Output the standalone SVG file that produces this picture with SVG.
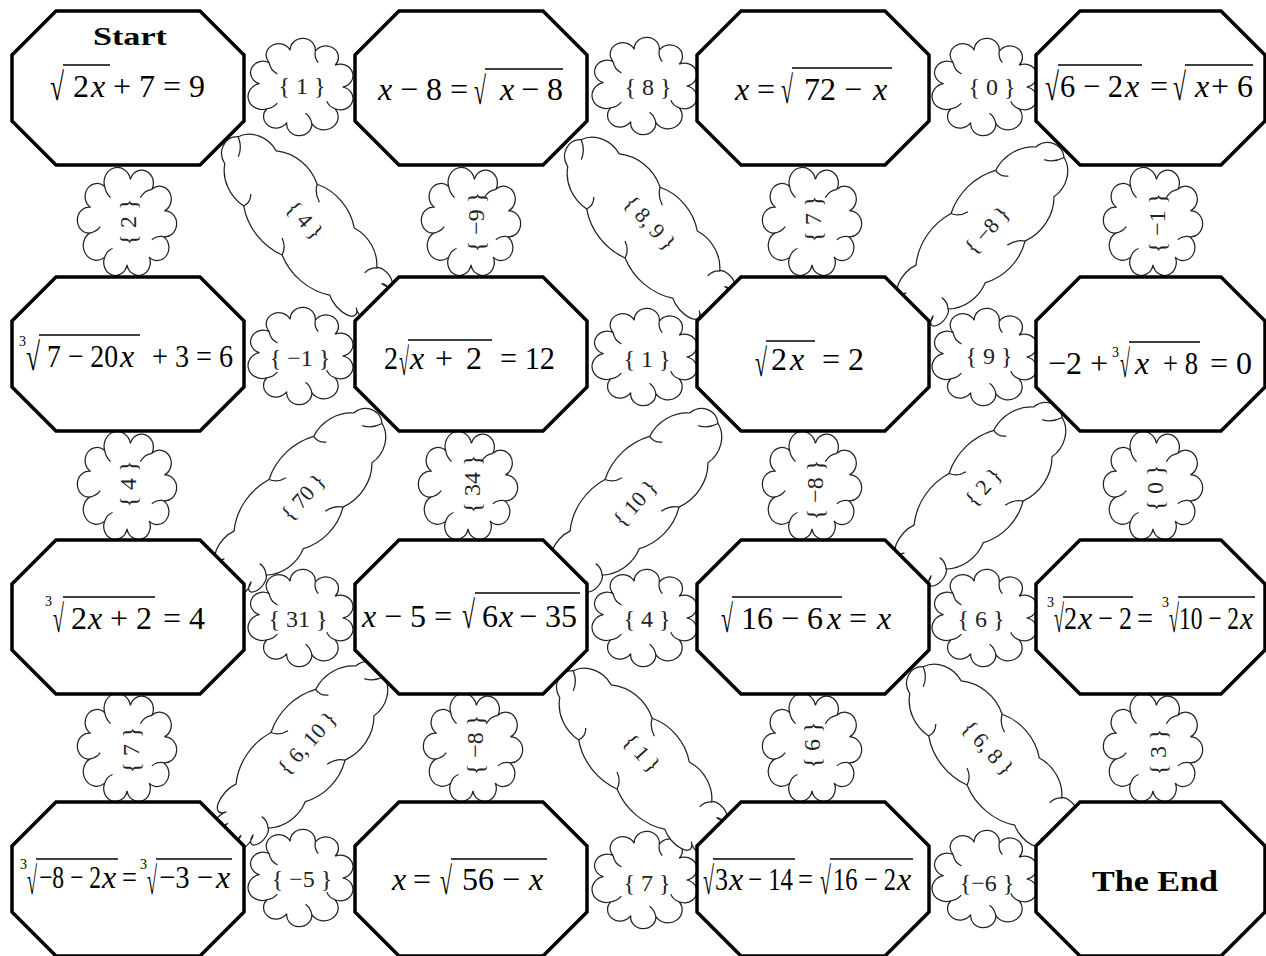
<svg xmlns="http://www.w3.org/2000/svg" width="1266" height="956" viewBox="0 0 1266 956">
<style>
.oct{fill:#fff;stroke:#000;stroke-width:3.5;stroke-linejoin:miter}
.cl{fill:#fff;stroke:#222;stroke-width:1.25}
.t{font-family:"Liberation Serif","Times New Roman",serif;font-size:32px;fill:#000}
.it{font-style:italic}
.r{font-family:"Liberation Serif","Times New Roman",serif;font-size:39px;fill:#000}
.i{font-family:"Liberation Serif","Times New Roman",serif;font-size:14px;fill:#000}
.vin{stroke:#000;stroke-width:1.7}
.lb{font-family:"Liberation Serif","Times New Roman",serif;font-size:24px;fill:#222;text-anchor:middle;dominant-baseline:central}
.dl{font-size:22px}
.ttl{font-family:"Liberation Serif","Times New Roman",serif;font-weight:bold;fill:#000}
</style>
<defs>
<g id="cloud">
<path vector-effect="non-scaling-stroke" d="M40,0 A12.1,12.1 0 1 1 32.8,22.9 A13.7,13.7 0 1 1 10.4,38.6 A12.1,12.1 0 1 1 -13.7,37.6 A12.1,12.1 0 1 1 -32.8,22.9 A13.7,13.7 0 1 1 -39.9,-3.5 A12.1,12.1 0 1 1 -30.6,-25.7 A12.1,12.1 0 1 1 -10.4,-38.6 A12.1,12.1 0 1 1 13.7,-37.6 A12.1,12.1 0 1 1 32.8,-22.9 A12.1,12.1 0 1 1 40,0 Z"/>
<path vector-effect="non-scaling-stroke" fill="none" d="M-30.6,-25.7 q1,8 8,12 M10.4,38.6 q-1,-7 -6,-11 M13.7,-37.6 q-1,7 3,12 M-32.8,22.9 q6,-1 10,-6 M32.8,22.9 q-6,-2 -8,-8"/>
</g>
<g id="longcloud">
<path vector-effect="non-scaling-stroke" d="M-90.9,19.5 A18.2,18.2 0 0 1 -101.4,-10.1 A28,28 0 0 1 -67.5,-29.9 A43,43 0 0 1 -18.2,-38.4 A50,50 0 0 1 35.9,-36.6 A37,37 0 0 1 78,-26.1 A11,6 0 1 1 92,-19 A12,6 0 1 1 100,-10 A13,6 0 1 1 104,0 A13,6 0 1 1 101,9 A12,6 0 1 1 93,18 A16,8 0 0 1 67.5,29.9 A58,58 0 0 1 9.2,38.9 A58,58 0 0 1 -49.3,34.4 A38,38 0 0 1 -90.9,19.5 Z"/>
<path vector-effect="non-scaling-stroke" fill="none" d="M-101.4,-10.1 q10,4 14,14 M-18.2,-38.4 q4,8 14,11 M9.2,38.9 q-3,-9 -12,-12 M78,-26.1 q-5,6 -4,13 M-49.3,34.4 q2,-8 -4,-14"/>
</g>
</defs>

<g id="connectors">
<g id="c-r1-12"><use href="#cloud" class="cl" transform="translate(301,87) scale(1.04,0.95)"/><text class="lb" x="302" y="86">{ 1 }</text></g>
<g id="c-r1-23"><use href="#cloud" class="cl" transform="translate(645,86) scale(1.04,0.95)"/><text class="lb" x="648" y="87">{ 8 }</text></g>
<g id="c-r1-34"><use href="#cloud" class="cl" transform="translate(985,87) scale(1.04,0.95)"/><text class="lb" x="992" y="87">{ 0 }</text></g>
<g id="c-r2-12"><use href="#cloud" class="cl" transform="translate(301,356) scale(1.04,0.95)"/><text class="lb" x="300" y="358">{ −1 }</text></g>
<g id="c-r2-23"><use href="#cloud" class="cl" transform="translate(645,357) scale(1.04,0.95)"/><text class="lb" x="647" y="359">{ 1 }</text></g>
<g id="c-r2-34"><use href="#cloud" class="cl" transform="translate(985,357) scale(1.04,0.95)"/><text class="lb" x="989" y="356">{ 9 }</text></g>
<g id="c-r3-12"><use href="#cloud" class="cl" transform="translate(301,618) scale(1.04,0.95)"/><text class="lb" x="298" y="619">{ 31 }</text></g>
<g id="c-r3-23"><use href="#cloud" class="cl" transform="translate(645,618) scale(1.04,0.95)"/><text class="lb" x="647" y="619">{ 4 }</text></g>
<g id="c-r3-34"><use href="#cloud" class="cl" transform="translate(985,618) scale(1.04,0.95)"/><text class="lb" x="981" y="619">{ 6 }</text></g>
<g id="c-r4-12"><use href="#cloud" class="cl" transform="translate(301,878) scale(1.04,0.95)"/><text class="lb" x="302" y="879">{ −5 }</text></g>
<g id="c-r4-23"><use href="#cloud" class="cl" transform="translate(645,880) scale(1.04,0.95)"/><text class="lb" x="647" y="883">{ 7 }</text></g>
<g id="c-r4-34"><use href="#cloud" class="cl" transform="translate(985,879) scale(1.04,0.95)"/><text class="lb" x="987" y="883">{−6 }</text></g>
<g id="c-c1-12"><use href="#cloud" class="cl" transform="translate(127,222) rotate(90) scale(1.07,0.97)"/><text class="lb" transform="translate(128,222) rotate(-90)">{ 2 }</text></g>
<g id="c-c2-12"><use href="#cloud" class="cl" transform="translate(471,222) rotate(90) scale(1.07,0.97)"/><text class="lb" transform="translate(476,222) rotate(-90)">{ −9 }</text></g>
<g id="c-c3-12"><use href="#cloud" class="cl" transform="translate(812,222) rotate(90) scale(1.07,0.97)"/><text class="lb" transform="translate(813,219) rotate(-90)">{ 7 }</text></g>
<g id="c-c4-12"><use href="#cloud" class="cl" transform="translate(1153,222) rotate(90) scale(1.07,0.97)"/><text class="lb" transform="translate(1157,223) rotate(-90)">{ −1 }</text></g>
<g id="c-c1-23"><use href="#cloud" class="cl" transform="translate(127,486) rotate(90) scale(1.07,0.97)"/><text class="lb" transform="translate(128,484) rotate(-90)">{ 4 }</text></g>
<g id="c-c2-23"><use href="#cloud" class="cl" transform="translate(468,486) rotate(90) scale(1.07,0.97)"/><text class="lb" transform="translate(472,484) rotate(-90)">{ 34 }</text></g>
<g id="c-c3-23"><use href="#cloud" class="cl" transform="translate(812,486) rotate(90) scale(1.07,0.97)"/><text class="lb" transform="translate(815,490) rotate(-90)">{ −8 }</text></g>
<g id="c-c4-23"><use href="#cloud" class="cl" transform="translate(1153,486) rotate(90) scale(1.07,0.97)"/><text class="lb" transform="translate(1155,488) rotate(-90)">{ 0 }</text></g>
<g id="c-c1-34"><use href="#cloud" class="cl" transform="translate(127,748) rotate(90) scale(1.07,0.97)"/><text class="lb" transform="translate(131,750) rotate(-90)">{ 7 }</text></g>
<g id="c-c2-34"><use href="#cloud" class="cl" transform="translate(473,748) rotate(90) scale(1.07,0.97)"/><text class="lb" transform="translate(475,745) rotate(-90)">{ −8 }</text></g>
<g id="c-c3-34"><use href="#cloud" class="cl" transform="translate(812,748) rotate(90) scale(1.07,0.97)"/><text class="lb" transform="translate(812,745) rotate(-90)">{ 6 }</text></g>
<g id="c-c4-34"><use href="#cloud" class="cl" transform="translate(1153,748) rotate(90) scale(1.07,0.97)"/><text class="lb" transform="translate(1158,752) rotate(-90)">{ 3 }</text></g>
<g id="c-d-11-22"><use href="#longcloud" class="cl" transform="translate(303,223) rotate(48) scale(1.06,0.95)"/><text class="lb dl" transform="translate(305,220) rotate(48)">{ 4 }</text></g>
<g id="c-d-12-23"><use href="#longcloud" class="cl" transform="translate(646,226) rotate(48) scale(1.06,0.95)"/><text class="lb dl" transform="translate(650,223) rotate(48)">{ 8, 9 }</text></g>
<g id="c-d-14-23"><use href="#longcloud" class="cl" transform="translate(985,231) rotate(132) scale(1.06,0.95)"/><text class="lb dl" transform="translate(987,230) rotate(-48)">{ −8 }</text></g>
<g id="c-d-22-31"><use href="#longcloud" class="cl" transform="translate(303,497) rotate(132) scale(1.06,0.95)"/><text class="lb dl" transform="translate(303,497) rotate(-48)">{ 70 }</text></g>
<g id="c-d-23-32"><use href="#longcloud" class="cl" transform="translate(639,497) rotate(132) scale(1.06,0.95)"/><text class="lb dl" transform="translate(635,503) rotate(-48)">{ 10 }</text></g>
<g id="c-d-24-33"><use href="#longcloud" class="cl" transform="translate(983,491) rotate(132) scale(1.06,0.95)"/><text class="lb dl" transform="translate(983,487) rotate(-48)">{ 2 }</text></g>
<g id="c-d-32-41"><use href="#longcloud" class="cl" transform="translate(305,750) rotate(132) scale(1.06,0.95)"/><text class="lb dl" transform="translate(307,743) rotate(-48)">{ 6, 10 }</text></g>
<g id="c-d-32-43"><use href="#longcloud" class="cl" transform="translate(638,757) rotate(48) scale(1.06,0.95)"/><text class="lb dl" transform="translate(642,753) rotate(48)">{ 1 }</text></g>
<g id="c-d-33-44"><use href="#longcloud" class="cl" transform="translate(988,753) rotate(48) scale(1.06,0.95)"/><text class="lb dl" transform="translate(988,748) rotate(48)">{ 6, 8 }</text></g>
</g>

<g id="n-r1c1">
<polygon class="oct" points="56,11 200,11 244,55 244,121 200,165 56,165 12,121 12,55"/>
<text class="ttl" x="93" y="45" font-size="26" textLength="74" lengthAdjust="spacingAndGlyphs">Start</text>
<line class="vin" x1="63" y1="65" x2="110" y2="65"/>
<text class="r" transform="translate(50,100) scale(0.654,1)" textLength="21.4" lengthAdjust="spacingAndGlyphs">√</text>
<text class="t" x="73" y="97">2</text>
<text class="t it" x="91" y="97">x</text>
<text class="t" x="113" y="97">+ 7 = 9</text>
</g>
<g id="n-r1c2">
<polygon class="oct" points="399,11 543,11 587,55 587,121 543,165 399,165 355,121 355,55"/>
<line class="vin" x1="485" y1="69" x2="563" y2="69"/>
<text class="t it" x="378" y="100">x</text>
<text class="t" x="400" y="100">− 8 =</text>
<text class="r" transform="translate(474,104) scale(0.561,1)" textLength="21.4" lengthAdjust="spacingAndGlyphs">√</text>
<text class="t it" x="500" y="100">x</text>
<text class="t" x="521" y="100">− 8</text>
</g>
<g id="n-r1c3">
<polygon class="oct" points="741,11 885,11 929,55 929,121 885,165 741,165 697,121 697,55"/>
<line class="vin" x1="792" y1="68" x2="892" y2="68"/>
<text class="t it" x="735" y="100">x</text>
<text class="t" x="757" y="100">=</text>
<text class="r" transform="translate(781,103) scale(0.561,1)" textLength="21.4" lengthAdjust="spacingAndGlyphs">√</text>
<text class="t" x="804" y="100">72 −</text>
<text class="t it" x="873" y="100">x</text>
</g>
<g id="n-r1c4">
<polygon class="oct" points="1080,11 1221,11 1265,55 1265,121 1221,165 1080,165 1036,121 1036,55"/>
<line class="vin" x1="1058" y1="65" x2="1142" y2="65"/>
<line class="vin" x1="1185" y1="65" x2="1253" y2="65"/>
<text class="r" transform="translate(1045,100) scale(0.654,1)" textLength="21.4" lengthAdjust="spacingAndGlyphs">√</text>
<text class="t" transform="translate(1060,97) scale(0.955,1)" textLength="66" lengthAdjust="spacingAndGlyphs">6 − 2</text>
<text class="t it" x="1125" y="97">x</text>
<text class="t" x="1150" y="97">=</text>
<text class="r" transform="translate(1173,100) scale(0.607,1)" textLength="21.4" lengthAdjust="spacingAndGlyphs">√</text>
<text class="t it" x="1195" y="97">x</text>
<text class="t" x="1211" y="97">+ 6</text>
</g>

<g id="n-r2c1">
<polygon class="oct" points="56,277 200,277 244,321 244,387 200,431 56,431 12,387 12,321"/>
<line class="vin" x1="39" y1="335" x2="140" y2="335"/>
<text class="i" x="19" y="346">3</text>
<text class="r" transform="translate(26,370) scale(0.654,1)" textLength="21.4" lengthAdjust="spacingAndGlyphs">√</text>
<text class="t" transform="translate(47,367) scale(0.866,1)" textLength="82" lengthAdjust="spacingAndGlyphs">7 − 20</text>
<text class="t it" x="120" y="367">x</text>
<text class="t" transform="translate(152,367) scale(0.88,1)" textLength="92" lengthAdjust="spacingAndGlyphs">+ 3 = 6</text>
</g>
<g id="n-r2c2">
<polygon class="oct" points="399,277 543,277 587,321 587,387 543,431 399,431 355,387 355,321"/>
<line class="vin" x1="408" y1="340" x2="492" y2="340"/>
<text class="t" transform="translate(384,369) scale(0.875,1)" textLength="16" lengthAdjust="spacingAndGlyphs">2</text>
<text class="r" transform="translate(399,375) scale(0.467,1)" textLength="21.4" lengthAdjust="spacingAndGlyphs">√</text>
<text class="t it" x="410" y="369">x</text>
<text class="t" x="435" y="369">+</text>
<text class="t" x="466" y="369">2</text>
<text class="t" transform="translate(500,369) scale(0.948,1)" textLength="58" lengthAdjust="spacingAndGlyphs">= 12</text>
</g>
<g id="n-r2c3">
<polygon class="oct" points="741,277 885,277 929,321 929,387 885,431 741,431 697,387 697,321"/>
<line class="vin" x1="766" y1="341" x2="815" y2="341"/>
<text class="r" transform="translate(755,376) scale(0.561,1)" textLength="21.4" lengthAdjust="spacingAndGlyphs">√</text>
<text class="t" x="771" y="370">2</text>
<text class="t it" x="790" y="370">x</text>
<text class="t" x="822" y="370">= 2</text>
</g>
<g id="n-r2c4">
<polygon class="oct" points="1080,277 1221,277 1265,321 1265,387 1221,431 1080,431 1036,387 1036,321"/>
<line class="vin" x1="1129" y1="342" x2="1200" y2="342"/>
<text class="t" x="1048" y="374">−2 +</text>
<text class="i" x="1112" y="357">3</text>
<text class="r" transform="translate(1120,377) scale(0.467,1)" textLength="21.4" lengthAdjust="spacingAndGlyphs">√</text>
<text class="t it" x="1135" y="374">x</text>
<text class="t" transform="translate(1163,374) scale(0.833,1)" textLength="42" lengthAdjust="spacingAndGlyphs">+ 8</text>
<text class="t" x="1210" y="374">= 0</text>
</g>

<g id="n-r3c1">
<polygon class="oct" points="56,540 200,540 244,584 244,650 200,694 56,694 12,650 12,584"/>
<line class="vin" x1="63" y1="597" x2="155" y2="597"/>
<text class="i" x="45" y="606">3</text>
<text class="r" transform="translate(53,632) scale(0.514,1)" textLength="21.4" lengthAdjust="spacingAndGlyphs">√</text>
<text class="t" x="71" y="629">2</text>
<text class="t it" x="88" y="629">x</text>
<text class="t" x="110" y="629">+ 2</text>
<text class="t" x="163" y="629">= 4</text>
</g>
<g id="n-r3c2">
<polygon class="oct" points="399,540 543,540 587,584 587,650 543,694 399,694 355,650 355,584"/>
<line class="vin" x1="475" y1="593" x2="580" y2="593"/>
<text class="t it" x="362" y="627">x</text>
<text class="t" x="384" y="627">− 5 =</text>
<text class="r" transform="translate(462,628) scale(0.607,1)" textLength="21.4" lengthAdjust="spacingAndGlyphs">√</text>
<text class="t" x="482" y="627">6</text>
<text class="t it" x="499" y="627">x</text>
<text class="t" x="519" y="627">− 35</text>
</g>
<g id="n-r3c3">
<polygon class="oct" points="741,540 885,540 929,584 929,650 885,694 741,694 697,650 697,584"/>
<line class="vin" x1="732" y1="597" x2="842" y2="597"/>
<text class="r" transform="translate(721,632) scale(0.561,1)" textLength="21.4" lengthAdjust="spacingAndGlyphs">√</text>
<text class="t" x="741" y="629">16 − 6</text>
<text class="t it" x="827" y="629">x</text>
<text class="t" x="849" y="629">=</text>
<text class="t it" x="877" y="629">x</text>
</g>
<g id="n-r3c4">
<polygon class="oct" points="1080,540 1221,540 1265,584 1265,650 1221,694 1080,694 1036,650 1036,584"/>
<line class="vin" x1="1063" y1="597" x2="1133" y2="597"/>
<line class="vin" x1="1178" y1="597" x2="1255" y2="597"/>
<text class="i" x="1047" y="607">3</text>
<text class="r" transform="translate(1054,632) scale(0.467,1)" textLength="21.4" lengthAdjust="spacingAndGlyphs">√</text>
<text class="t" transform="translate(1064,629) scale(0.8125,1)" textLength="16" lengthAdjust="spacingAndGlyphs">2</text>
<text class="t it" x="1078" y="629">x</text>
<text class="t" transform="translate(1098,629) scale(0.81,1)" textLength="42" lengthAdjust="spacingAndGlyphs">− 2</text>
<text class="t" transform="translate(1137,629) scale(0.886,1)" textLength="18" lengthAdjust="spacingAndGlyphs">=</text>
<text class="i" x="1162" y="607">3</text>
<text class="r" transform="translate(1169,632) scale(0.467,1)" textLength="21.4" lengthAdjust="spacingAndGlyphs">√</text>
<text class="t" transform="translate(1179,629) scale(0.732,1)" textLength="82" lengthAdjust="spacingAndGlyphs">10 − 2</text>
<text class="t it" transform="translate(1240,629) scale(0.915,1)" textLength="14.2" lengthAdjust="spacingAndGlyphs">x</text>
</g>

<g id="n-r4c1">
<polygon class="oct" points="56,802 200,802 244,846 244,912 200,956 56,956 12,912 12,846"/>
<line class="vin" x1="36" y1="859" x2="118" y2="859"/>
<line class="vin" x1="156" y1="859" x2="232" y2="859"/>
<text class="i" x="20" y="869">3</text>
<text class="r" transform="translate(27,894) scale(0.467,1)" textLength="21.4" lengthAdjust="spacingAndGlyphs">√</text>
<text class="t" transform="translate(39,888) scale(0.738,1)" textLength="84" lengthAdjust="spacingAndGlyphs">−8 − 2</text>
<text class="t it" x="102" y="888">x</text>
<text class="t" transform="translate(122,888) scale(0.83,1)" textLength="18" lengthAdjust="spacingAndGlyphs">=</text>
<text class="i" x="140" y="869">3</text>
<text class="r" transform="translate(147,894) scale(0.467,1)" textLength="21.4" lengthAdjust="spacingAndGlyphs">√</text>
<text class="t" transform="translate(159,888) scale(0.9,1)" textLength="60" lengthAdjust="spacingAndGlyphs">−3 −</text>
<text class="t it" x="216" y="888">x</text>
</g>
<g id="n-r4c2">
<polygon class="oct" points="399,802 543,802 587,846 587,912 543,956 399,956 355,912 355,846"/>
<line class="vin" x1="451" y1="859" x2="547" y2="859"/>
<text class="t it" x="392" y="890">x</text>
<text class="t" x="413" y="890">=</text>
<text class="r" transform="translate(440,894) scale(0.561,1)" textLength="21.4" lengthAdjust="spacingAndGlyphs">√</text>
<text class="t" x="462" y="890">56 −</text>
<text class="t it" x="529" y="890">x</text>
</g>
<g id="n-r4c3">
<polygon class="oct" points="741,802 885,802 929,846 929,912 885,956 741,956 697,912 697,846"/>
<line class="vin" x1="713" y1="859" x2="795" y2="859"/>
<line class="vin" x1="830" y1="859" x2="913" y2="859"/>
<text class="r" transform="translate(703,894) scale(0.514,1)" textLength="21.4" lengthAdjust="spacingAndGlyphs">√</text>
<text class="t" transform="translate(715,890) scale(0.8125,1)" textLength="16" lengthAdjust="spacingAndGlyphs">3</text>
<text class="t it" x="729" y="890">x</text>
<text class="t" transform="translate(748,890) scale(0.776,1)" textLength="58" lengthAdjust="spacingAndGlyphs">− 14</text>
<text class="t" transform="translate(798,890) scale(0.83,1)" textLength="18" lengthAdjust="spacingAndGlyphs">=</text>
<text class="r" transform="translate(820,894) scale(0.514,1)" textLength="21.4" lengthAdjust="spacingAndGlyphs">√</text>
<text class="t" transform="translate(833,890) scale(0.768,1)" textLength="82" lengthAdjust="spacingAndGlyphs">16 − 2</text>
<text class="t it" x="897" y="890">x</text>
</g>
<g id="n-r4c4">
<polygon class="oct" points="1080,802 1221,802 1265,846 1265,912 1221,956 1080,956 1036,912 1036,846"/>
<text class="ttl" x="1092" y="891" font-size="29" textLength="126" lengthAdjust="spacingAndGlyphs">The End</text>
</g>
</svg>
